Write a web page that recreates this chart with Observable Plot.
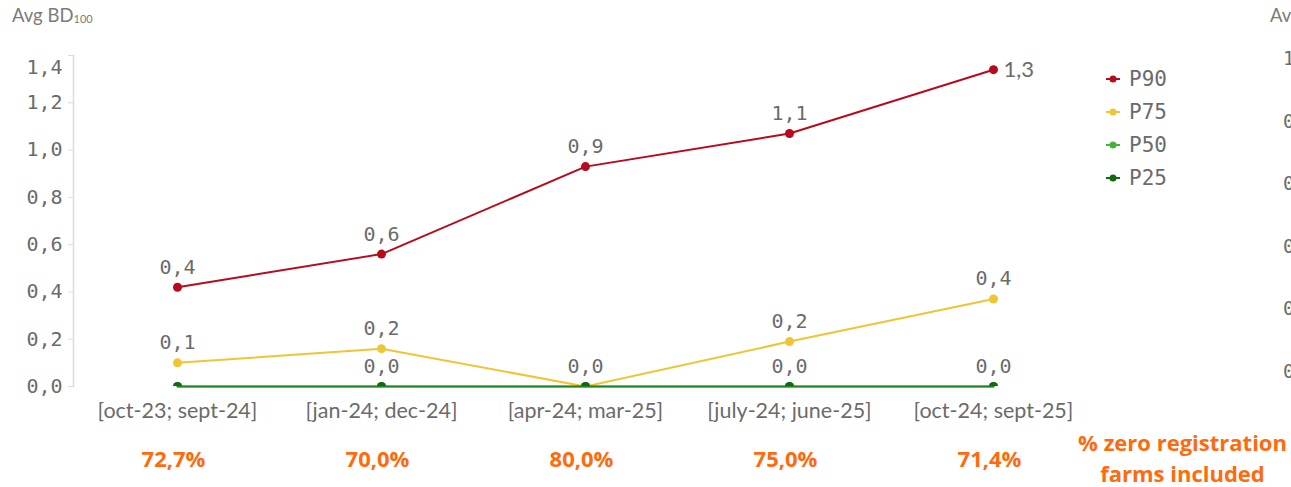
<!DOCTYPE html>
<html>
<head>
<meta charset="utf-8">
<script src="https://cdn.jsdelivr.net/npm/d3@7"></script>
<script src="https://cdn.jsdelivr.net/npm/@observablehq/plot@0.6"></script>
<style>
  html, body { margin: 0; padding: 0; background: #fff; }
  #wrap { position: relative; width: 1291px; height: 487px; overflow: hidden; background: #fff; }
  .title { position: absolute; top: 4px; font-family: Lato, "Open Sans", sans-serif; font-size: 18.5px; color: #7d7a77; white-space: nowrap; }
  .title sub { font-size: 11px; vertical-align: baseline; position: relative; top: 1px; }
  #legend { position: absolute; left: 1105px; top: 62px; font-family: "DejaVu Sans Mono", monospace; font-size: 21px; color: #6b6b6b; }
  #legend .row { height: 33px; display: flex; align-items: center; }
  #legend svg { margin-right: 8px; }
  #frag { position: absolute; left: 1283px; top: 0; font-family: "DejaVu Sans Mono", monospace; font-size: 19px; color: #6b6b6b; }
  #frag div { position: absolute; white-space: nowrap; }
</style>
</head>
<body>
<div id="wrap">
  <div class="title" style="left:12px">Avg BD<sub>100</sub></div>
  <div id="chart"></div>
  <div id="legend"></div>
  <div class="title" style="left:1270px">Avg BD<sub>100</sub></div>
  <div id="frag"></div>
</div>
<script>
// ---- data ----
const periods = ["[oct-23; sept-24]", "[jan-24; dec-24]", "[apr-24; mar-25]", "[july-24; june-25]", "[oct-24; sept-25]"];
const seriesNames = ["P90", "P75", "P50", "P25"];
const seriesColors = ["#b80a1a", "#f0c533", "#47b23b", "#0b6a12"];
const p90 = [0.42, 0.56, 0.93, 1.07, 1.34];
const p75 = [0.10, 0.16, 0.00, 0.19, 0.37];
const p50 = [0.00, 0.00, 0.00, 0.00, 0.00];
const p25 = [0.00, 0.00, 0.00, 0.00, 0.00];
const zeroShare = ["72,7%", "70,0%", "80,0%", "75,0%", "71,4%"];
const yTicks = [0, 0.2, 0.4, 0.6, 0.8, 1.0, 1.2, 1.4];
const caption = "% zero registration\nfarms included";
const nextChartTicks = ["1,0", "0,8", "0,6", "0,4", "0,2", "0,0"];

// ---- build table ----
const valuesBySeries = {P90: p90, P75: p75, P50: p50, P25: p25};
const rows = [];
for (const s of seriesNames) {
  valuesBySeries[s].forEach((v, i) => rows.push({series: s, period: periods[i], idx: i, value: v}));
}
const fmt = v => v.toFixed(1).replace(".", ",");
const last = periods.length - 1;

// label visibility: hide a lower-series label when it would collide with a label above it
const labelRows = [];
for (const r of rows) {
  if (r.series === "P50") continue; // hidden behind P25
  if (r.series === "P25") {
    const upper = p75[r.idx];
    if (upper - r.value > 0 && upper - r.value < 0.12) continue;
    if (upper === r.value) continue; // shown by P75 label
  }
  labelRows.push(r);
}
const normalLabels = labelRows.filter(r => !(r.series === "P90" && r.idx === last));
const endLabels = labelRows.filter(r => r.series === "P90" && r.idx === last);

const monoFont = "DejaVu Sans Mono, monospace";
const topTick = yTicks[yTicks.length - 1];

const plot = Plot.plot({
  width: 1291,
  height: 487,
  marginLeft: 73,
  marginRight: 195,
  marginTop: 55,
  marginBottom: 101,
  style: {fontFamily: "Lato, sans-serif", background: "transparent", overflow: "visible"},
  x: {type: "point", domain: periods, padding: 0.5, label: null},
  y: {domain: [0, 1.4], label: null},
  color: {domain: seriesNames, range: seriesColors},
  marks: [
    Plot.frame({anchor: "left", stroke: "#dcdcdc", strokeWidth: 1.5}),
    Plot.axisY({ticks: yTicks, tickFormat: fmt, tickSize: 5, tickPadding: 6, stroke: "#dcdcdc", text: null, label: null}),
    Plot.axisY({ticks: yTicks.filter(t => t !== topTick), tickFormat: fmt, tickSize: 5, tickPadding: 6, stroke: "none", fill: "#6b6b6b", fontSize: 20, fontFamily: monoFont, label: null}),
    Plot.axisY({ticks: [topTick], tickFormat: fmt, tickSize: 5, tickPadding: 6, dy: 12, stroke: "none", fill: "#6b6b6b", fontSize: 20, fontFamily: monoFont, label: null}),
    Plot.axisX({tickSize: 0, tickPadding: 16, fill: "#6b6b6b", fontSize: 21.5, fontFamily: "Lato, sans-serif", label: null}),
    Plot.line(rows, {x: "period", y: "value", z: "series", stroke: "series", strokeOpacity: d => d.series === "P25" ? 0.65 : 1, strokeWidth: 2}),
    Plot.dot(rows, {x: "period", y: "value", fill: "series", r: 4.5, clip: true}),
    Plot.text(normalLabels, {x: "period", y: "value", text: d => fmt(d.value), dy: -20, fill: "#6b6b6b", fontSize: 20, fontFamily: monoFont}),
    Plot.text(endLabels, {x: "period", y: "value", text: d => fmt(d.value), dx: 10, textAnchor: "start", fill: "#6b6b6b", fontSize: 22, fontFamily: "Lato, sans-serif"}),
    Plot.text(periods, {x: d => d, text: (d, i) => zeroShare[i], frameAnchor: "bottom", dx: -4, dy: 80, fill: "#ff6a0d", fontWeight: "bold", fontSize: 22, fontFamily: "Open Sans, sans-serif"}),
    Plot.text([caption], {text: d => d, frameAnchor: "bottom-right", dx: 86, dy: 95, textAnchor: "middle", lineHeight: 1.4, fill: "#ff6a0d", fontWeight: "bold", fontSize: 22, fontFamily: "Open Sans, sans-serif"})
  ]
});
document.getElementById("chart").appendChild(plot);

// ---- legend ----
const legend = d3.select("#legend");
seriesNames.forEach((s, i) => {
  const row = legend.append("div").attr("class", "row");
  const sv = row.append("svg").attr("width", 16).attr("height", 10);
  sv.append("line").attr("x1", 1).attr("x2", 15).attr("y1", 5).attr("y2", 5).attr("stroke", seriesColors[i]).attr("stroke-width", 2);
  sv.append("circle").attr("cx", 8).attr("cy", 5).attr("r", 3.5).attr("fill", seriesColors[i]);
  row.append("span").text(s);
});

// ---- fragment of the neighbouring chart (cut off at the right edge) ----
const frag = d3.select("#frag");
nextChartTicks.forEach((t, i) => {
  frag.append("div").style("top", (47 + i * 62.5) + "px").text(t);
});
</script>
</body>
</html>
